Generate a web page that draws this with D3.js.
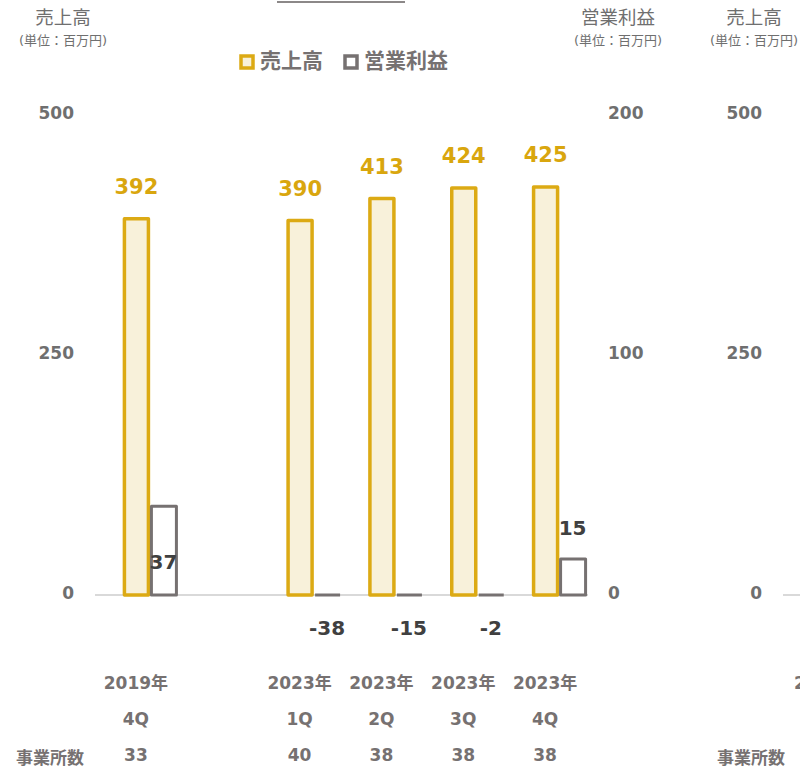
<!DOCTYPE html>
<html>
<head>
<meta charset="utf-8">
<script src="https://cdn.jsdelivr.net/npm/d3@7"></script>
<style>
  body { margin: 0; background: #fff; }
  svg { display: block; font-family: "DejaVu Sans", "Noto Sans CJK JP", sans-serif; }
</style>
</head>
<body>
<svg id="chart" width="800" height="767"></svg>
<script>
// data
const periods = ["2019-4Q", "gap", "2023-1Q", "2023-2Q", "2023-3Q", "2023-4Q"];
const yearLabels = ["2019年", "", "2023年", "2023年", "2023年", "2023年"];
const quarterLabels = ["4Q", "", "1Q", "2Q", "3Q", "4Q"];
const officeCounts = ["33", "", "40", "38", "38", "38"];
const sales = [392, null, 390, 413, 424, 425];
const profit = [37, null, -38, -15, -2, 15];
const salesTicks = [0, 250, 500];
const profitTicks = [0, 100, 200];

const gold = "#dcaa14";
const goldText = "#d9a60e";
const goldFill = "#f8f1da";
const gray = "#767171";
const axisText = "#6f6f6f";

const svg = d3.select("#chart");

const x = d3.scaleBand().domain(periods).range([109, 600]);
const ySales = d3.scaleLinear().domain([0, 500]).range([595, 115]);
const yProfit = d3.scaleLinear().domain([0, 200]).range([595, 115]);
const barW = 27;

// cut-off line at the top of the slide
svg.append("line")
  .attr("x1", 277).attr("x2", 405).attr("y1", 2).attr("y2", 2)
  .attr("stroke", "#8c8888").attr("stroke-width", 2);

// axis titles
function axisTitle(cx, name) {
  svg.append("text").attr("x", cx).attr("y", 24).attr("text-anchor", "middle")
    .attr("font-size", 18.5).attr("fill", axisText).text(name);
  svg.append("text").attr("x", cx).attr("y", 45).attr("text-anchor", "middle")
    .attr("font-size", 13).attr("fill", axisText).text("(単位：百万円)");
}
axisTitle(63, "売上高");
axisTitle(618, "営業利益");
axisTitle(754, "売上高");

// legend
const legend = [
  { name: "売上高", stroke: gold, fill: goldFill, x: 239 },
  { name: "営業利益", stroke: gray, fill: "#fff", x: 343 }
];
const lg = svg.append("g").selectAll("g").data(legend).join("g")
  .attr("transform", (d) => `translate(${d.x},54)`);
lg.append("rect").attr("x", 2).attr("y", 2).attr("width", 12).attr("height", 12)
  .attr("fill", (d) => d.fill).attr("stroke", (d) => d.stroke).attr("stroke-width", 3.5);
lg.append("text").attr("x", 21).attr("y", 14).attr("font-size", 21).attr("font-weight", "bold")
  .attr("fill", gray).text((d) => d.name);

// y axes
svg.append("g").selectAll("text").data(salesTicks).join("text")
  .attr("x", 74).attr("y", (d) => ySales(d) - 2).attr("dy", "0.35em")
  .attr("text-anchor", "end").attr("font-size", 17).attr("font-weight", "bold")
  .attr("fill", axisText).text((d) => d);
svg.append("g").selectAll("text").data(profitTicks).join("text")
  .attr("x", 608).attr("y", (d) => yProfit(d) - 2).attr("dy", "0.35em")
  .attr("font-size", 17).attr("font-weight", "bold")
  .attr("fill", axisText).text((d) => d);
svg.append("g").selectAll("text").data(salesTicks).join("text")
  .attr("x", 762).attr("y", (d) => ySales(d) - 2).attr("dy", "0.35em")
  .attr("text-anchor", "end").attr("font-size", 17).attr("font-weight", "bold")
  .attr("fill", axisText).text((d) => d);

// baselines
svg.append("line").attr("x1", 95).attr("x2", 588)
  .attr("y1", ySales(0)).attr("y2", ySales(0))
  .attr("stroke", "#d9d9d9").attr("stroke-width", 2);
svg.append("line").attr("x1", 783).attr("x2", 800)
  .attr("y1", ySales(0)).attr("y2", ySales(0))
  .attr("stroke", "#d9d9d9").attr("stroke-width", 2);

const cx = (i) => x(periods[i]) + x.bandwidth() / 2;
const idx = periods.map((_, i) => i).filter((i) => sales[i] !== null);

// bar outline as a path so zero-height bars still show as a line
function barPath(x0, w, yTop, yBase) {
  if (yBase - yTop < 0.5) return `M${x0},${yBase}H${x0 + w}`;
  return `M${x0},${yBase}V${yTop}H${x0 + w}V${yBase}Z`;
}

// sales bars
svg.append("g").selectAll("path").data(idx).join("path")
  .attr("d", (i) => barPath(cx(i) - barW + 1.5, barW - 3, ySales(sales[i]), ySales(0)))
  .attr("fill", goldFill).attr("stroke", gold).attr("stroke-width", 3.5)
  .attr("stroke-linejoin", "round");

// profit bars (negative values clipped at zero)
svg.append("g").selectAll("path").data(idx).join("path")
  .attr("d", (i) => barPath(cx(i) + 1.5, barW - 2, yProfit(Math.max(0, profit[i])), yProfit(0)))
  .attr("fill", "#fff").attr("stroke", gray).attr("stroke-width", 3)
  .attr("stroke-linejoin", "round");

// sales value labels
svg.append("g").selectAll("text").data(idx).join("text")
  .attr("x", (i) => cx(i) - barW / 2)
  .attr("y", (i) => ySales(sales[i]) - 25)
  .attr("text-anchor", "middle").attr("font-size", 21).attr("font-weight", "bold")
  .attr("fill", goldText).text((i) => sales[i]);

// profit value labels
svg.append("g").selectAll("text").data(idx).join("text")
  .attr("x", (i) => cx(i) + barW / 2)
  .attr("y", (i) => {
    const p = profit[i];
    if (p < 0) return 635;
    if (p > 30) return yProfit(p) + 63;
    return yProfit(p) - 24;
  })
  .attr("text-anchor", "middle").attr("font-size", 20).attr("font-weight", "bold")
  .attr("fill", "#404040").text((i) => profit[i]);

// category table
const rows = [
  { labels: yearLabels, y: 689 },
  { labels: quarterLabels, y: 725 },
  { labels: officeCounts, y: 761 }
];
rows.forEach((row) => {
  svg.append("g").selectAll("text").data(idx).join("text")
    .attr("x", (i) => cx(i) - 14)
    .attr("y", row.y)
    .attr("text-anchor", "middle").attr("font-size", 17).attr("font-weight", "bold")
    .attr("fill", gray).text((i) => row.labels[i]);
});
svg.append("text").attr("x", 794).attr("y", 689).attr("font-size", 17)
  .attr("font-weight", "bold").attr("fill", gray).text("2");
svg.append("text").attr("x", 50).attr("y", 764).attr("text-anchor", "middle")
  .attr("font-size", 17).attr("font-weight", "bold").attr("fill", gray).text("事業所数");
svg.append("text").attr("x", 751).attr("y", 764).attr("text-anchor", "middle")
  .attr("font-size", 17).attr("font-weight", "bold").attr("fill", gray).text("事業所数");
</script>
</body>
</html>
